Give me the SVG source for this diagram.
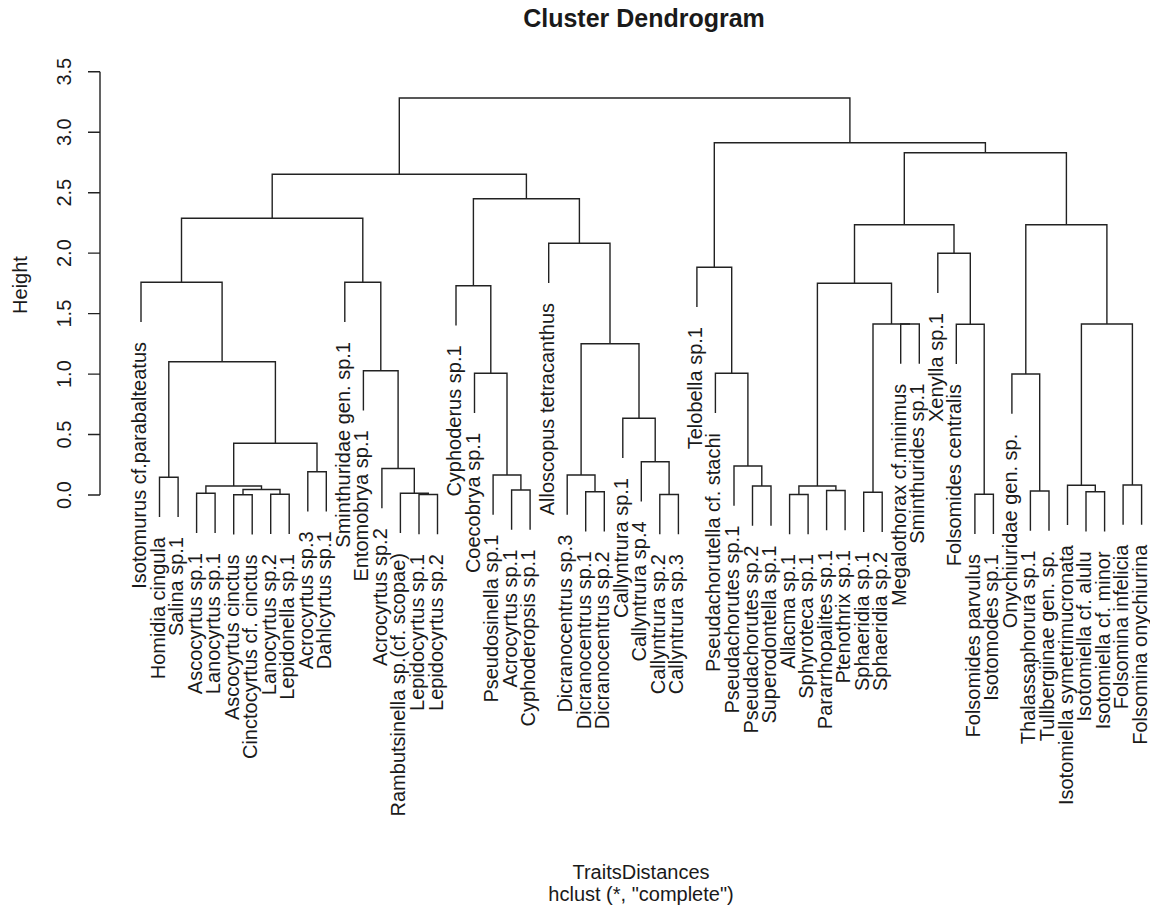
<svg xmlns="http://www.w3.org/2000/svg" width="1150" height="911" viewBox="0 0 1150 911">
<style>
text{font-family:"Liberation Sans",Arial,Helvetica,sans-serif;fill:#1a1a1a}
.lab{font-size:20px;text-anchor:end}
.tick{font-size:20px;text-anchor:middle}
.ttl{font-size:25px;font-weight:bold;text-anchor:middle}
.ax{font-size:20px;text-anchor:middle}
.tr{fill:none;stroke:#222;stroke-width:1.4}
</style>
<rect width="1150" height="911" fill="#fff"/>
<text class="ttl" x="644" y="27">Cluster Dendrogram</text>
<g id="axis" class="tr">
<path d="M100 495V71.7M88 495H100M88 434.5H100M88 374.1H100M88 313.6H100M88 253.1H100M88 192.7H100M88 132.2H100M88 71.7H100"/>
</g>
<g id="axis-labels">
<text class="tick" transform="translate(71,495) rotate(-90)">0.0</text>
<text class="tick" transform="translate(71,434.5) rotate(-90)">0.5</text>
<text class="tick" transform="translate(71,374.1) rotate(-90)">1.0</text>
<text class="tick" transform="translate(71,313.6) rotate(-90)">1.5</text>
<text class="tick" transform="translate(71,253.1) rotate(-90)">2.0</text>
<text class="tick" transform="translate(71,192.7) rotate(-90)">2.5</text>
<text class="tick" transform="translate(71,132.2) rotate(-90)">3.0</text>
<text class="tick" transform="translate(71,71.7) rotate(-90)">3.5</text>
<text class="ax" transform="translate(27,285) rotate(-90)">Height</text>
<text class="ax" x="641" y="879">TraitsDistances</text>
<text class="ax" x="641" y="901">hclust (*, "complete")</text>
</g>
<g id="connectors" class="tr">
<path d="M159.5 517V477.3H178.1V517"/>
<path d="M196.6 533V493.3H215.1V533"/>
<path d="M233.7 534.5V494.8H252.2V534.5"/>
<path d="M270.7 534V494.3H289.2V534"/>
<path d="M243 494.8V489.5H280V494.3"/>
<path d="M205.9 493.3V486H261.5V489.5"/>
<path d="M307.8 511.4V471.7H326.3V511.4"/>
<path d="M233.7 486V443.3H317V471.7"/>
<path d="M168.8 477.3V361.7H275.4V443.3"/>
<path d="M141 322V282.3H222.1V361.7"/>
<path d="M419 534.2V494.5H437.5V534.2"/>
<path d="M400.4 533V493.3H428.3V494.5"/>
<path d="M381.9 508.2V468.5H414.3V493.3"/>
<path d="M363.4 410.4V370.7H398.1V468.5"/>
<path d="M344.8 322V282.3H380.8V370.7"/>
<path d="M181.5 282.3V218.3H362.8V282.3"/>
<path d="M511.6 529.7V490H530.1V529.7"/>
<path d="M493.1 514.7V475H520.9V490"/>
<path d="M474.5 413V373.3H507V475"/>
<path d="M456 325.4V285.7H490.8V373.3"/>
<path d="M585.7 531.4V491.7H604.3V531.4"/>
<path d="M567.2 514.7V475H595V491.7"/>
<path d="M659.8 534.2V494.5H678.4V534.2"/>
<path d="M641.3 501.4V461.7H669.1V494.5"/>
<path d="M622.8 458V418.3H655.2V461.7"/>
<path d="M581.1 475V343.7H639V418.3"/>
<path d="M548.7 283V243.3H610V343.7"/>
<path d="M473.4 285.7V198.7H579.4V243.3"/>
<path d="M272.2 218.3V174.3H526.4V198.7"/>
<path d="M752.5 525.7V486H771V525.7"/>
<path d="M734 505.7V466H761.8V486"/>
<path d="M715.4 413V373.3H747.9V466"/>
<path d="M696.9 307V267.3H731.7V373.3"/>
<path d="M789.6 534.2V494.5H808.1V534.2"/>
<path d="M826.6 530.2V490.5H845.1V530.2"/>
<path d="M798.9 494.5V486H835.9V490.5"/>
<path d="M863.7 532V492.3H882.2V532"/>
<path d="M900.7 363.7V324H919.3V363.7"/>
<path d="M873 492.3V324H910"/>
<path d="M817.4 486V283.3H891.5V324"/>
<path d="M974.9 534V494.3H993.4V534"/>
<path d="M956.3 364V324.3H984.2V494.3"/>
<path d="M937.8 293V253.3H970.3V324.3"/>
<path d="M854.5 283.3V224.7H954V253.3"/>
<path d="M1030.4 530.7V491H1049V530.7"/>
<path d="M1011.9 413.7V374H1039.7V491"/>
<path d="M1086 531.4V491.7H1104.6V531.4"/>
<path d="M1067.5 525V485.3H1095.3V491.7"/>
<path d="M1123.1 524.7V485H1141.6V524.7"/>
<path d="M1081.4 485.3V324H1132.4V485"/>
<path d="M1025.8 374V224.7H1106.9V324"/>
<path d="M904.3 224.7V152.7H1066.4V224.7"/>
<path d="M714.3 267.3V142.7H985.4V152.7"/>
<path d="M399.3 174.3V98H849.9V142.7"/>
</g>
<g id="leaves" transform="translate(0,1)">
<g id="leaf-1"><text class="lab" transform="translate(146,341) rotate(-90)">Isotomurus cf.parabalteatus</text></g>
<g id="leaf-2"><text class="lab" transform="translate(164.5,536) rotate(-90)">Homidia cingula</text></g>
<g id="leaf-3"><text class="lab" transform="translate(183.1,536) rotate(-90)">Salina sp.1</text></g>
<g id="leaf-4"><text class="lab" transform="translate(201.6,552) rotate(-90)">Ascocyrtus sp.1</text></g>
<g id="leaf-5"><text class="lab" transform="translate(220.1,552) rotate(-90)">Lanocyrtus sp.1</text></g>
<g id="leaf-6"><text class="lab" transform="translate(238.7,553.5) rotate(-90)">Ascocyrtus cinctus</text></g>
<g id="leaf-7"><text class="lab" transform="translate(257.2,553.5) rotate(-90)">Cinctocyrtus cf. cinctus</text></g>
<g id="leaf-8"><text class="lab" transform="translate(275.7,553) rotate(-90)">Lanocyrtus sp.2</text></g>
<g id="leaf-9"><text class="lab" transform="translate(294.2,553) rotate(-90)">Lepidonella sp.1</text></g>
<g id="leaf-10"><text class="lab" transform="translate(312.8,530.4) rotate(-90)">Acrocyrtus sp.3</text></g>
<g id="leaf-11"><text class="lab" transform="translate(331.3,530.4) rotate(-90)">Dahlcyrtus sp.1</text></g>
<g id="leaf-12"><text class="lab" transform="translate(349.8,341) rotate(-90)">Sminthuridae gen. sp.1</text></g>
<g id="leaf-13"><text class="lab" transform="translate(368.4,429.4) rotate(-90)">Entomobrya sp.1</text></g>
<g id="leaf-14"><text class="lab" transform="translate(386.9,527.2) rotate(-90)">Acrocyrtus sp.2</text></g>
<g id="leaf-15"><text class="lab" transform="translate(405.4,552) rotate(-90)">Rambutsinella sp.(cf. scopae)</text></g>
<g id="leaf-16"><text class="lab" transform="translate(424,553.2) rotate(-90)">Lepidocyrtus sp.1</text></g>
<g id="leaf-17"><text class="lab" transform="translate(442.5,553.2) rotate(-90)">Lepidocyrtus sp.2</text></g>
<g id="leaf-18"><text class="lab" transform="translate(461,344.4) rotate(-90)">Cyphoderus sp.1</text></g>
<g id="leaf-19"><text class="lab" transform="translate(479.5,432) rotate(-90)">Coecobrya sp.1</text></g>
<g id="leaf-20"><text class="lab" transform="translate(498.1,533.7) rotate(-90)">Pseudosinella sp.1</text></g>
<g id="leaf-21"><text class="lab" transform="translate(516.6,548.7) rotate(-90)">Acrocyrtus sp.1</text></g>
<g id="leaf-22"><text class="lab" transform="translate(535.1,548.7) rotate(-90)">Cyphoderopsis sp.1</text></g>
<g id="leaf-23"><text class="lab" transform="translate(553.7,302) rotate(-90)">Alloscopus tetracanthus</text></g>
<g id="leaf-24"><text class="lab" transform="translate(572.2,533.7) rotate(-90)">Dicranocentrus sp.3</text></g>
<g id="leaf-25"><text class="lab" transform="translate(590.7,550.4) rotate(-90)">Dicranocentrus sp.1</text></g>
<g id="leaf-26"><text class="lab" transform="translate(609.3,550.4) rotate(-90)">Dicranocentrus sp.2</text></g>
<g id="leaf-27"><text class="lab" transform="translate(627.8,477) rotate(-90)">Callyntrura sp.1</text></g>
<g id="leaf-28"><text class="lab" transform="translate(646.3,520.4) rotate(-90)">Callyntrura sp.4</text></g>
<g id="leaf-29"><text class="lab" transform="translate(664.8,553.2) rotate(-90)">Callyntrura sp.2</text></g>
<g id="leaf-30"><text class="lab" transform="translate(683.4,553.2) rotate(-90)">Callyntrura sp.3</text></g>
<g id="leaf-31"><text class="lab" transform="translate(701.9,326) rotate(-90)">Telobella sp.1</text></g>
<g id="leaf-32"><text class="lab" transform="translate(720.4,432) rotate(-90)">Pseudachorutella cf. stachi</text></g>
<g id="leaf-33"><text class="lab" transform="translate(739,524.7) rotate(-90)">Pseudachorutes sp.1</text></g>
<g id="leaf-34"><text class="lab" transform="translate(757.5,544.7) rotate(-90)">Pseudachorutes sp.2</text></g>
<g id="leaf-35"><text class="lab" transform="translate(776,544.7) rotate(-90)">Superodontella sp.1</text></g>
<g id="leaf-36"><text class="lab" transform="translate(794.6,553.2) rotate(-90)">Allacma sp.1</text></g>
<g id="leaf-37"><text class="lab" transform="translate(813.1,553.2) rotate(-90)">Sphyroteca sp.1</text></g>
<g id="leaf-38"><text class="lab" transform="translate(831.6,549.2) rotate(-90)">Pararrhopalites sp.1</text></g>
<g id="leaf-39"><text class="lab" transform="translate(850.1,549.2) rotate(-90)">Ptenothrix sp.1</text></g>
<g id="leaf-40"><text class="lab" transform="translate(868.7,551) rotate(-90)">Sphaeridia sp.1</text></g>
<g id="leaf-41"><text class="lab" transform="translate(887.2,551) rotate(-90)">Sphaeridia sp.2</text></g>
<g id="leaf-42"><text class="lab" transform="translate(905.7,382.7) rotate(-90)">Megalothorax cf.minimus</text></g>
<g id="leaf-43"><text class="lab" transform="translate(924.3,382.7) rotate(-90)">Sminthurides sp.1</text></g>
<g id="leaf-44"><text class="lab" transform="translate(942.8,312) rotate(-90)">Xenylla sp.1</text></g>
<g id="leaf-45"><text class="lab" transform="translate(961.3,383) rotate(-90)">Folsomides centralis</text></g>
<g id="leaf-46"><text class="lab" transform="translate(979.9,553) rotate(-90)">Folsomides parvulus</text></g>
<g id="leaf-47"><text class="lab" transform="translate(998.4,553) rotate(-90)">Isotomodes sp.1</text></g>
<g id="leaf-48"><text class="lab" transform="translate(1016.9,432.7) rotate(-90)">Onychiuridae gen. sp.</text></g>
<g id="leaf-49"><text class="lab" transform="translate(1035.4,549.7) rotate(-90)">Thalassaphorura sp.1</text></g>
<g id="leaf-50"><text class="lab" transform="translate(1054,549.7) rotate(-90)">Tullbergiinae gen. sp.</text></g>
<g id="leaf-51"><text class="lab" transform="translate(1072.5,544) rotate(-90)">Isotomiella symetrimucronata</text></g>
<g id="leaf-52"><text class="lab" transform="translate(1091,550.4) rotate(-90)">Isotomiella cf. alulu</text></g>
<g id="leaf-53"><text class="lab" transform="translate(1109.6,550.4) rotate(-90)">Isotomiella cf. minor</text></g>
<g id="leaf-54"><text class="lab" transform="translate(1128.1,543.7) rotate(-90)">Folsomina infelicia</text></g>
<g id="leaf-55"><text class="lab" transform="translate(1146.6,543.7) rotate(-90)">Folsomina onychiurina</text></g>
</g>
</svg>
